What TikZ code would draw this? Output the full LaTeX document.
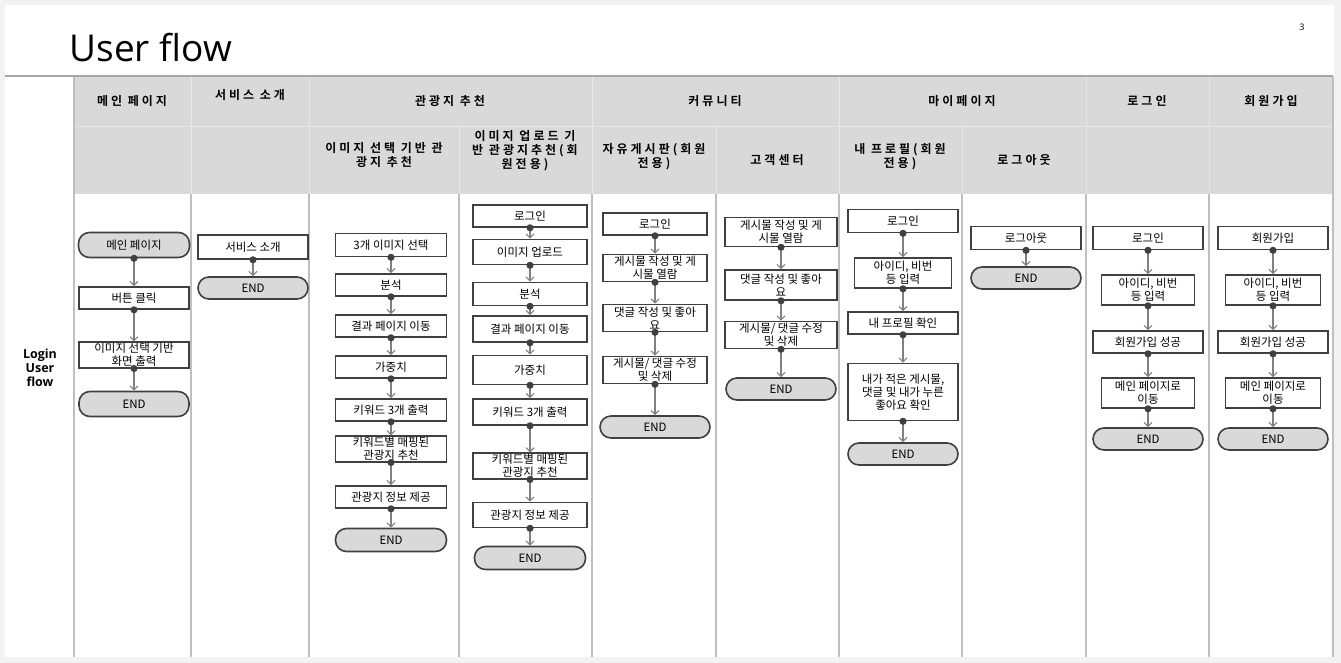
\documentclass[tikz,border=0pt]{standalone}
\usepackage{fontspec}
\setmainfont{Noto Sans CJK KR}[BoldFont={* Bold}]
\newfontfamily\titlefont{Open Sans}
\newfontfamily\headfont{Noto Sans CJK KR}[BoldFont={* Bold}, LetterSpace=25]
\usepackage{tikz}
\usetikzlibrary{arrows.meta}
\definecolor{pagegray}{RGB}{242, 242, 242}
\definecolor{headgray}{RGB}{217, 217, 217}
\definecolor{headline}{RGB}{232, 232, 232}
\definecolor{colline}{RGB}{191, 191, 191}
\definecolor{topline}{RGB}{166, 166, 166}
\definecolor{boxline}{RGB}{64, 64, 64}
\definecolor{endgray}{RGB}{217, 217, 217}
\definecolor{linegray}{RGB}{128, 128, 128}
\definecolor{dotgray}{RGB}{64, 64, 64}

\begin{document}
\begin{tikzpicture}[x=1pt, y=-1pt, >=Latex,
    procbox/.style={draw=boxline, line width=1.6pt, fill=white, minimum width=110pt,
      minimum height=23pt, inner sep=1pt, align=center, font=\fontsize{11.5}{13}\selectfont},
    endbox/.style={procbox, fill=endgray, rounded corners=11pt},
    flow/.style={draw=linegray, line width=1.1pt, shorten <=-3.5pt,
      {Circle[length=7pt, color=dotgray]}-{Straight Barb[length=4pt, width=8pt]}},
    headtxt/.style={font=\headfont\bfseries\fontsize{12}{14}\selectfont, align=center}]
    \useasboundingbox (0,0) rectangle (1341,663);
    \fill[pagegray] (0,0) rectangle (1341,663);
    \fill[white] (5,5) rectangle (1334,657);
    \node[font=\titlefont\fontsize{37}{42}\selectfont, anchor=base west] (title) at (66,62) {User flow};
    \node[font=\titlefont\fontsize{9}{10}\selectfont] (pagenum) at (1302,27) {3};
    \node[font=\titlefont\bfseries\fontsize{12.5}{14}\selectfont, align=center] (side) at (40,368) {Login\\User\\flow};

    \fill[headgray] (74,76) rectangle (1333,194);
    \draw[headline, line width=1pt] (74,127) -- (1333,127)
      (191,76) -- (191,194) (309,76) -- (309,194) (592,76) -- (592,194) (839,76) -- (839,194)
      (1086,76) -- (1086,194) (1209,76) -- (1209,194)
      (459,127) -- (459,194) (716,127) -- (716,194) (962,127) -- (962,194);
    \draw[colline, line width=1.2pt] (74,76) -- (74,657) (191,194) -- (191,657) (309,194) -- (309,657)
      (459,194) -- (459,657) (592,194) -- (592,657) (716,194) -- (716,657) (839,194) -- (839,657)
      (962,194) -- (962,657) (1086,194) -- (1086,657) (1209,194) -- (1209,657) (1333,76) -- (1333,657);
    \draw[topline, line width=1.2pt] (5,76) -- (1333,76);

    \node[headtxt] (h1) at (132,101) {메인 페이지};
    \node[headtxt] (h2) at (250,95) {서비스 소개};
    \node[headtxt] (h3) at (450,101) {관광지 추천};
    \node[headtxt] (h4) at (715,101) {커뮤니티};
    \node[headtxt] (h5) at (962,101) {마이페이지};
    \node[headtxt] (h6) at (1147,101) {로그인};
    \node[headtxt] (h7) at (1271,101) {회원가입};
    \node[headtxt] (h31) at (384,155) {이미지 선택 기반 관\\광지 추천};
    \node[headtxt] (h32) at (525,151) {이미지 업로드 기\\반 관광지추천(회\\원전용)};
    \node[headtxt] (h41) at (654,157) {자유게시판(회원\\전용)};
    \node[headtxt] (h42) at (777,160) {고객센터};
    \node[headtxt] (h51) at (900,157) {내 프로필(회원\\전용)};
    \node[headtxt] (h52) at (1024,160) {로그아웃};

    \node[endbox, minimum width=111pt, minimum height=25pt] (mp1) at (134,245) {메인 페이지};
    \node[procbox, minimum height=22pt] (mp2) at (134,298) {버튼 클릭};
    \node[procbox, minimum height=24pt] (mp3) at (134,355) {이미지 선택 기반\\화면 출력};
    \node[endbox, minimum height=25pt] (mp4) at (134,404) {END};

    \node[procbox, minimum height=24pt] (sv1) at (253,247) {서비스 소개};
    \node[endbox, minimum height=22pt] (sv2) at (253,288) {END};

    \node[procbox, minimum width=111pt] (ts1) at (391,245) {3개 이미지 선택};
    \node[procbox, minimum width=111pt, minimum height=22pt] (ts2) at (391,285) {분석};
    \node[procbox, minimum width=111pt, minimum height=22pt] (ts3) at (391,326) {결과 페이지 이동};
    \node[procbox, minimum width=111pt, minimum height=22pt] (ts4) at (391,367) {가중치};
    \node[procbox, minimum width=111pt, minimum height=22pt] (ts5) at (391,410) {키워드 3개 출력};
    \node[procbox, minimum width=111pt, minimum height=25pt] (ts6) at (391,449) {키워드별 매핑된\\관광지 추천};
    \node[procbox, minimum width=111pt, minimum height=22pt] (ts7) at (391,497) {관광지 정보 제공};
    \node[endbox, minimum width=111pt] (ts8) at (391,540) {END};

    \node[procbox, minimum width=114pt, minimum height=22pt] (tu1) at (530,216) {로그인};
    \node[procbox, minimum width=114pt, minimum height=25pt] (tu2) at (530,252) {이미지 업로드};
    \node[procbox, minimum width=114pt] (tu3) at (530,294) {분석};
    \node[procbox, minimum width=114pt, minimum height=26pt] (tu4) at (530,329) {결과 페이지 이동};
    \node[procbox, minimum width=114pt, minimum height=29pt] (tu5) at (530,370) {가중치};
    \node[procbox, minimum width=114pt, minimum height=26pt] (tu6) at (530,412) {키워드 3개 출력};
    \node[procbox, minimum width=114pt, minimum height=25pt] (tu7) at (530,466) {키워드별 매핑된\\관광지 추천};
    \node[procbox, minimum width=114pt, minimum height=25pt] (tu8) at (530,515) {관광지 정보 제공};
    \node[endbox, minimum width=111pt] (tu9) at (530,558) {END};

    \node[procbox, minimum width=104pt, minimum height=22pt] (fb1) at (655,224) {로그인};
    \node[procbox, minimum width=104pt, minimum height=27pt] (fb2) at (655,268) {게시물 작성 및 게\\시물 열람};
    \node[procbox, minimum width=104pt, minimum height=27pt] (fb3) at (655,318) {댓글 작성 및 좋아\\요};
    \node[procbox, minimum width=104pt, minimum height=27pt] (fb4) at (655,370) {게시물/ 댓글 수정\\및 삭제};
    \node[endbox, minimum height=22pt] (fb5) at (655,427) {END};

    \node[procbox, minimum width=112pt, minimum height=29pt] (cs1) at (781,232) {게시물 작성 및 게\\시물 열람};
    \node[procbox, minimum width=112pt, minimum height=30pt] (cs2) at (781,285) {댓글 작성 및 좋아\\요};
    \node[procbox, minimum width=112pt, minimum height=27pt] (cs3) at (781,335) {게시물/ 댓글 수정\\및 삭제};
    \node[endbox, minimum height=22pt] (cs4) at (781,389) {END};

    \node[procbox] (pf1) at (903,221) {로그인};
    \node[procbox, minimum width=97pt, minimum height=30pt] (pf2) at (903,273) {아이디, 비번\\등 입력};
    \node[procbox, minimum height=22pt] (pf3) at (903,323) {내 프로필 확인};
    \node[procbox, minimum height=57pt] (pf4) at (903,392) {내가 적은 게시물,\\댓글 및 내가 누른\\좋아요 확인};
    \node[endbox, minimum height=22pt] (pf5) at (903,454) {END};

    \node[procbox] (lo1) at (1026,238) {로그아웃};
    \node[endbox, minimum height=22pt] (lo2) at (1026,278) {END};

    \node[procbox] (li1) at (1148,238) {로그인};
    \node[procbox, minimum width=93pt, minimum height=30pt] (li2) at (1148,290) {아이디, 비번\\등 입력};
    \node[procbox, minimum height=22pt] (li3) at (1148,342) {회원가입 성공};
    \node[procbox, minimum width=93pt, minimum height=30pt] (li4) at (1148,393) {메인 페이지로\\이동};
    \node[endbox, minimum height=22pt] (li5) at (1148,439) {END};

    \node[procbox] (sg1) at (1273,238) {회원가입};
    \node[procbox, minimum width=95pt, minimum height=30pt] (sg2) at (1273,290) {아이디, 비번\\등 입력};
    \node[procbox, minimum height=22pt] (sg3) at (1273,342) {회원가입 성공};
    \node[procbox, minimum width=95pt, minimum height=30pt] (sg4) at (1273,393) {메인 페이지로\\이동};
    \node[endbox, minimum height=22pt] (sg5) at (1273,439) {END};

    \draw[flow] (mp1) -- (mp2);
    \draw[flow] (mp2) -- (mp3);
    \draw[flow] (mp3) -- (mp4);
    \draw[flow] (sv1) -- (sv2);
    \draw[flow] (ts1) -- (ts2);
    \draw[flow] (ts2) -- (ts3);
    \draw[flow] (ts3) -- (ts4);
    \draw[flow] (ts4) -- (ts5);
    \draw[flow] (ts5) -- (ts6);
    \draw[flow] (ts6) -- (ts7);
    \draw[flow] (ts7) -- (ts8);
    \draw[flow] (tu1) -- (tu2);
    \draw[flow] (tu2) -- (tu3);
    \draw[flow] (tu3) -- (tu4);
    \draw[flow] (tu4) -- (tu5);
    \draw[flow] (tu5) -- (tu6);
    \draw[flow] (tu6) -- (tu7);
    \draw[flow] (tu7) -- (tu8);
    \draw[flow] (tu8) -- (tu9);
    \draw[flow] (fb1) -- (fb2);
    \draw[flow] (fb2) -- (fb3);
    \draw[flow] (fb3) -- (fb4);
    \draw[flow] (fb4) -- (fb5);
    \draw[flow] (cs1) -- (cs2);
    \draw[flow] (cs2) -- (cs3);
    \draw[flow] (cs3) -- (cs4);
    \draw[flow] (pf1) -- (pf2);
    \draw[flow] (pf2) -- (pf3);
    \draw[flow] (pf3) -- (pf4);
    \draw[flow] (pf4) -- (pf5);
    \draw[flow] (lo1) -- (lo2);
    \draw[flow] (li1) -- (li2);
    \draw[flow] (li2) -- (li3);
    \draw[flow] (li3) -- (li4);
    \draw[flow] (li4) -- (li5);
    \draw[flow] (sg1) -- (sg2);
    \draw[flow] (sg2) -- (sg3);
    \draw[flow] (sg3) -- (sg4);
    \draw[flow] (sg4) -- (sg5);
\end{tikzpicture}
\end{document}
